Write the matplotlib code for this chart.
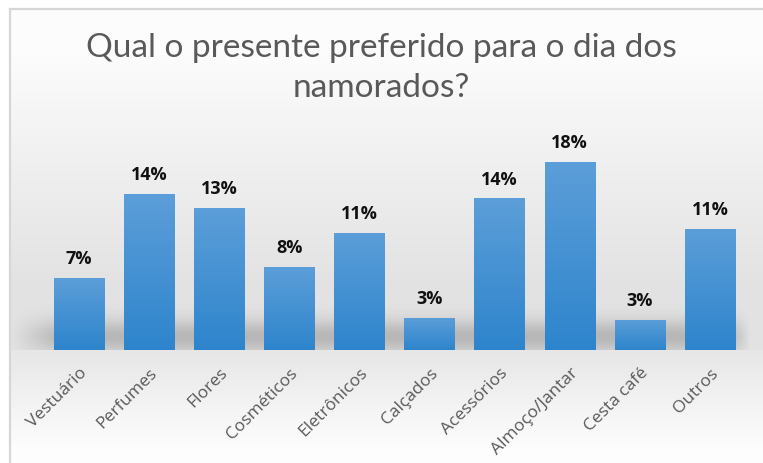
import numpy as np
import matplotlib
matplotlib.use("Agg")
import matplotlib.pyplot as plt
from matplotlib.lines import Line2D

categories = ["Vestuário", "Perfumes", "Flores", "Cosméticos", "Eletrônicos",
              "Calçados", "Acessórios", "Almoço/Jantar", "Cesta café", "Outros"]
values = [0.067, 0.145, 0.132, 0.077, 0.109, 0.030, 0.141, 0.175, 0.028, 0.113]
labels = ["7%", "14%", "13%", "8%", "11%", "3%", "14%", "18%", "3%", "11%"]
title = "Qual o presente preferido para o dia dos\nnamorados?"

W, H = 763, 463
fig = plt.figure(figsize=(W / 100, H / 100), dpi=100)

# ---- background (gradient + floor shadow) ----
yy = np.arange(H)[:, None].astype(float)
xx = np.arange(W)[None, :].astype(float)
def lerp(a, b, t):
    return a + (b - a) * np.clip(t, 0, 1)
top = lerp(0.99, 0.89, (yy - 50) / 230.0)
bot = lerp(0.905, 0.995, (yy - 350) / 100.0)
g = np.where(yy < 350, top, bot) * np.ones((1, W))
xwin = np.clip((xx - 10) / 50.0, 0, 1) * np.clip((750 - xx) / 20.0, 0, 1)
band = np.exp(-((yy - 336) / 17.0) ** 2) * (yy < 350)
g = g - 0.17 * band * xwin
g[:8, :] = 1.0
g[:, :9] = 1.0
rgb = np.dstack([g, g, g])
bg = fig.add_axes([0, 0, 1, 1], zorder=-10)
bg.imshow(rgb, aspect="auto", extent=[0, W, H, 0], interpolation="bilinear")
bg.set_xlim(0, W); bg.set_ylim(H, 0); bg.axis("off")
bg.add_line(Line2D([9.5, W], [8.5, 8.5], color="#d6d6d6", lw=1.6))
bg.add_line(Line2D([9.5, 9.5], [8.5, H], color="#d6d6d6", lw=1.6))

# ---- main axes ----
ax = fig.add_axes([44 / W, 1 - 350 / H, (745 - 44) / W, 215 / H])
ax.patch.set_alpha(0)
x = np.arange(len(categories))
bars = ax.bar(x, values, width=0.72, color="none", edgecolor="none")

grad = np.linspace(0, 1, 100)[:, None]
c_top = np.array([0.36, 0.62, 0.85])
c_bot = np.array([0.18, 0.52, 0.80])
img = c_top[None, None, :] * (1 - grad[..., None]) + c_bot[None, None, :] * grad[..., None]
for b in bars:
    x0, y0, w, h = b.get_x(), b.get_y(), b.get_width(), b.get_height()
    im = ax.imshow(img, extent=[x0, x0 + w, y0, y0 + h], aspect="auto",
                   origin="upper", zorder=2)
    im.set_clip_path(b)
ax.set_xlim(-0.5, len(categories) - 0.5)
ax.set_ylim(0, 0.20)

for b, lab in zip(bars, labels):
    ax.annotate(lab, (b.get_x() + b.get_width() / 2, b.get_height()),
                xytext=(0, 13.5), textcoords="offset points", ha="center",
                va="center", fontsize=13, fontweight="bold", color="#111111",
                family="Open Sans")

for s in ax.spines.values():
    s.set_visible(False)
ax.set_yticks([])
ax.set_xticks(x)
ax.set_xticklabels(categories, rotation=45, ha="right", rotation_mode="anchor",
                   fontsize=12.5, color="#595959", family="Open Sans")
ax.tick_params(axis="x", length=0, pad=11)

fig.text(0.5, 1 - 68 / H, title, ha="center", va="center", fontsize=24,
         color="#595959", family="Lato", linespacing=1.4)

fig.savefig("out.png", dpi=100)
